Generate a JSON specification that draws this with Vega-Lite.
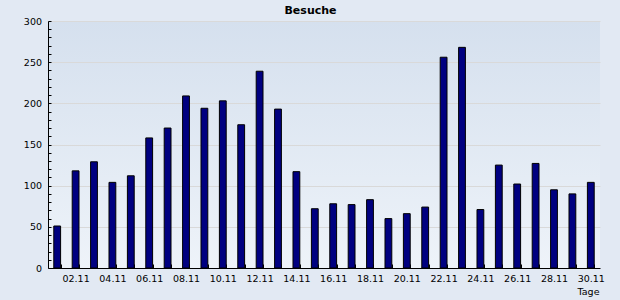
{
  "$schema": "https://vega.github.io/schema/vega-lite/v6.json",
  "autosize": "none",
  "width": 552,
  "height": 247,
  "padding": {"left": 48, "top": 21, "right": 20, "bottom": 32},
  "background": "#e2e9f3",
  "title": {"text": "Besuche", "font": "DejaVu Sans", "fontSize": 11, "fontWeight": "bold", "color": "#000000", "anchor": "middle", "dx": -13.5, "offset": -8.5, "baseline": "alphabetic"},
  "config": {
    "view": {
      "stroke": null,
      "fill": {"gradient": "linear", "x1": 0, "y1": 0, "x2": 0, "y2": 1, "stops": [{"offset": 0, "color": "#d5e0ee"}, {"offset": 1, "color": "#eef3f9"}]}
    },
    "axis": {"labelFont": "DejaVu Sans", "labelFontSize": 9.5, "labelColor": "#000000", "titleFont": "DejaVu Sans", "titleFontSize": 9.5, "titleFontWeight": "normal", "titleColor": "#000000", "domainColor": "#000000", "tickColor": "#000000", "domainWidth": 1, "tickWidth": 1}
  },
  "data": {"values": [
    {"tag": "01.11", "besuche": 51},
    {"tag": "02.11", "besuche": 118},
    {"tag": "03.11", "besuche": 129},
    {"tag": "04.11", "besuche": 104},
    {"tag": "05.11", "besuche": 112},
    {"tag": "06.11", "besuche": 158},
    {"tag": "07.11", "besuche": 170},
    {"tag": "08.11", "besuche": 209},
    {"tag": "09.11", "besuche": 194},
    {"tag": "10.11", "besuche": 203},
    {"tag": "11.11", "besuche": 174},
    {"tag": "12.11", "besuche": 239},
    {"tag": "13.11", "besuche": 193},
    {"tag": "14.11", "besuche": 117},
    {"tag": "15.11", "besuche": 72},
    {"tag": "16.11", "besuche": 78},
    {"tag": "17.11", "besuche": 77},
    {"tag": "18.11", "besuche": 83},
    {"tag": "19.11", "besuche": 60},
    {"tag": "20.11", "besuche": 66},
    {"tag": "21.11", "besuche": 74},
    {"tag": "22.11", "besuche": 256},
    {"tag": "23.11", "besuche": 268},
    {"tag": "24.11", "besuche": 71},
    {"tag": "25.11", "besuche": 125},
    {"tag": "26.11", "besuche": 102},
    {"tag": "27.11", "besuche": 127},
    {"tag": "28.11", "besuche": 95},
    {"tag": "29.11", "besuche": 90},
    {"tag": "30.11", "besuche": 104}
  ]},
  "mark": {"type": "bar", "color": "#000080", "stroke": "#000000", "strokeWidth": 1},
  "encoding": {
    "x": {
      "field": "tag", "type": "ordinal", "sort": null,
      "scale": {"paddingInner": 0.63, "paddingOuter": 0.315},
      "axis": {
        "title": "Tage", "titleAnchor": "end", "titleAlign": "right", "titleBaseline": "alphabetic", "titleX": 551, "titleY": 26,
        "labelAngle": 0, "labelOverlap": false, "labelBaseline": "alphabetic", "labelPadding": 17,
        "labelExpr": "parseInt(substring(datum.label, 0, 2)) % 2 == 0 ? datum.label : ''",
        "tickSize": -4, "tickBand": "extent", "grid": false
      }
    },
    "y": {
      "field": "besuche", "type": "quantitative",
      "scale": {"domain": [0, 300], "nice": false},
      "axis": {
        "title": null,
        "values": [0,10,20,30,40,50,60,70,80,90,100,110,120,130,140,150,160,170,180,190,200,210,220,230,240,250,260,270,280,290,300],
        "labelExpr": "datum.value % 50 == 0 ? datum.label : ''",
        "labelOverlap": false,
        "labelPadding": 9.5,
        "tickSize": -3,
        "grid": true,
        "gridColor": "#d9d9d9",
        "gridOpacity": {"condition": {"test": "datum.value % 50 == 0 && datum.value > 0", "value": 1}, "value": 0}
      }
    }
  }
}
